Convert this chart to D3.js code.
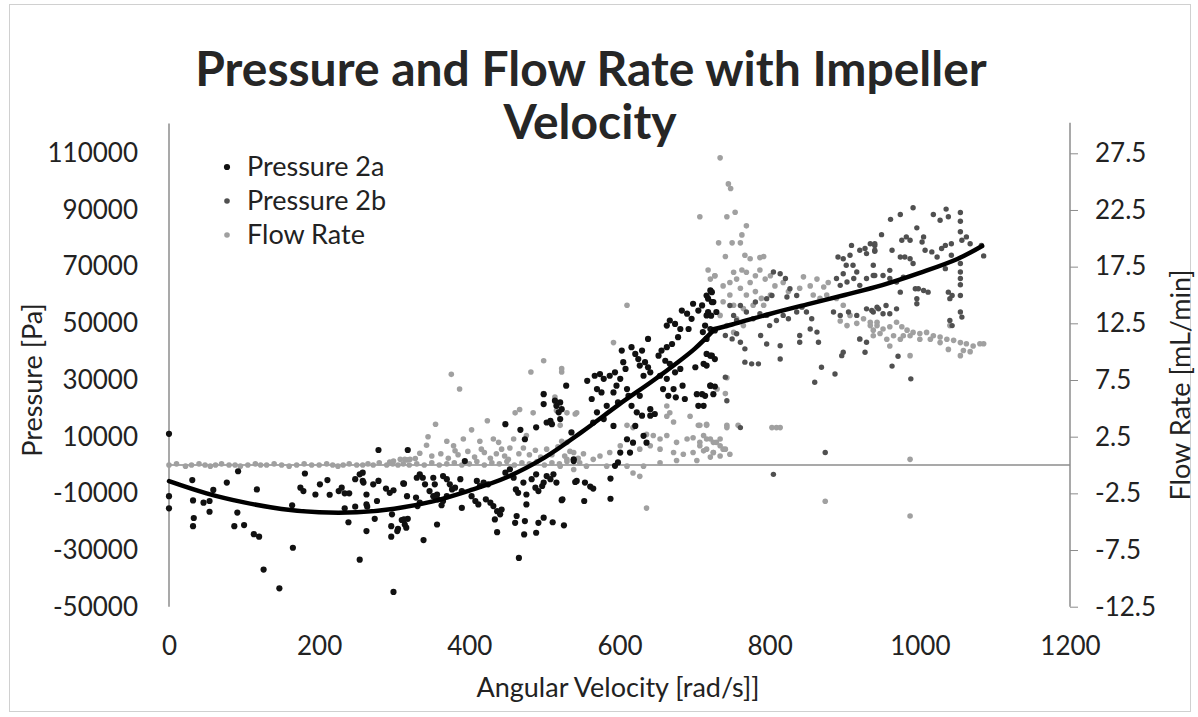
<!DOCTYPE html>
<html lang="en">
<head>
<meta charset="UTF-8">
<title>Pressure and Flow Rate with Impeller Velocity</title>
<style>
  body { margin: 0; background: #fff; }
  svg { display: block; font-family: Lato, "Open Sans", sans-serif; }
</style>
</head>
<body>
<div id="chart"></div>
<script src="https://d3js.org/d3.v7.min.js"></script>
<script>
// angular velocity [rad/s], pressure [Pa]
const pressure2a = [
  [0,11000],[0,-11000],[0,-15300],[31,-5300],[32,-12500],[33,-18700],[32,-21600],[46,-13300],[54,-12700],[54,-16500],
  [59,-8800],[77,-6200],[87,-21600],[91,-16800],[92,-2200],[100,-21200],[117,-8600],[113,-24400],[120,-25300],[126,-36900],
  [147,-43500],[164,-14200],[165,-29200],[175,-8000],[179,-9200],[181,-3000],[195,-10400],[201,-6800],[211,-5300],[214,-10500],
  [226,-9200],[230,-8000],[234,-10000],[240,-10000],[234,-15300],[239,-20200],[248,-5000],[248,-14700],[254,-33400],[254,-3300],
  [258,-2700],[258,-5600],[259,-6200],[263,-10400],[263,-13900],[264,-14700],[263,-23300],[272,-6800],[279,-5600],[277,-12700],
  [274,-19000],[279,5300],[289,-8300],[294,-9800],[299,-8900],[297,-17400],[296,-21600],[296,-25300],[299,-44800],[304,-23300],
  [305,-22500],[310,-19400],[314,-21000],[318,-19000],[312,-6500],[318,5300],[330,-4500],[331,-14500],
  [313,-6600],[317,-11000],[313,-19200],[316,-22100],[334,-3300],[338,-4500],[341,-6800],[329,-11500],[334,-13300],[339,-26500],
  [352,-4500],[354,-6800],[347,-9200],[352,-11000],[357,-10400],[358,-12100],[363,-14200],[365,-3900],[370,-5000],[374,-6800],
  [377,-8600],[381,-8000],[357,-21000],[365,-12700],[370,-11000],[388,-5000],[390,-9200],[390,-15100],[394,1400],[403,-11000],
  [408,-12700],[412,-13900],[410,-5600],[414,-7400],[419,-6200],[425,-6800],[422,-12100],[428,-13300],[432,-14500],[437,-16300],
  [441,-17400],[443,-15700],[434,-19200],[437,-23700],[448,14400],[448,-2700],[454,-1500],[459,-4500],[462,-8600],[465,-9800],
  [463,-18000],[461,-20400],[466,-32800],[468,12400],[474,9100],[472,-6200],[476,-10400],[476,-13900],[473,-24500],[474,-19800],
  [483,-5000],[489,-3300],[488,-8000],[492,-9200],[497,-7400],[499,-6200],[489,-23900],[499,-18600],[492,-20400],[489,13300],
  [499,21500],[499,25000],[503,15000],[508,15600],[510,14400],[514,22700],[516,20900],[519,18600],[521,16200],[503,-3900],
  [508,-5000],[512,-3300],[516,-6200],[523,-12400],[526,-21300],[511,-20200],[529,28000],[536,11500],[539,2000],[543,-5600],
  [521,22100],[523,19700],[539,1400],[541,-6000],[554,-6200],[561,-7600],[565,-8300],[553,-12700],[588,-11900],[588,-4800],
  [524,-12100],[557,29700],[567,31500],[574,32100],[579,30400],[570,26800],[576,25600],[563,23300],[570,18600],[565,15000],
  [579,16200],[583,20900],[587,31500],[594,32700],[596,28000],[592,25600],[603,40400],[605,36300],[608,33900],[601,30400],
  [610,26800],[612,24400],[598,22100],[592,13800],[616,41600],[621,39200],[625,37400],[630,40400],[627,35100],[638,44500],
  [634,36300],[638,34500],[641,32700],[632,31500],[616,20900],[623,18600],[630,17400],[621,13800],[627,24400],[641,19700],
  [647,18000],[641,17400],[652,38600],[656,40400],[663,41600],[670,42700],[661,36800],[667,35700],[654,31500],[658,26800],
  [665,24400],[672,26800],[663,30400],[663,49200],[667,51000],[674,49800],[681,48000],[678,45100],[683,54500],[690,53400],
  [696,51600],[698,56900],[692,48000],[675,23900],[687,23300],[684,28000],[681,33900],[674,32700],[703,25000],[710,25000],
  [705,20900],[721,28000],[725,25000],[701,34500],[712,35700],[716,39200],[723,38600],[727,37400],[705,54500],[710,56300],
  [718,58700],[723,61000],[725,57500],[729,54000],[716,52800],[714,49200],[721,48000],[727,47500],[594,-300],[598,900],
  [632,10300],[636,7900],[610,9100],[614,4400],[601,4400],[618,7900],
  [716,59800],[721,61600],[723,57500],[718,54000],[722,52700],[711,46900],[716,44500],[721,38600],[716,35100],[721,28000],
  [727,27700],[714,24400],[712,20900]
];

const pressure2b = [
  [891,73400],[898,72800],[907,74000],[909,77500],[920,75800],[927,76400],[929,74600],[934,78100],[940,77500],[940,75400],
  [902,70500],[898,67500],[911,70500],[916,68100],[889,65800],[894,63400],[903,64600],[912,65800],[920,63400],[929,65800],
  [938,66900],[885,54000],[894,52800],[905,54000],[916,52800],[929,55100],[938,54000],[945,55100],[920,44500],[929,43300],
  [927,39800],[898,39800],[896,38600],[869,34500],[860,29200],[887,32100],[874,4400],[805,-3300],[767,41000],[776,35700],
  [785,35700],[767,36300],[796,42700],[814,42100],[814,37400],[788,45700],[761,13200],[741,31000],[743,22700],[840,45700],
  [854,48000],[863,46900],[865,43300],[840,43300],[836,54000],[843,55700],[849,54000],[856,51600],[796,52800],[800,49200],
  [809,51000],[818,52800],[825,51600],[769,54000],[778,51600],[787,53400],[781,57500],[796,58700],[803,59800],[747,56300],
  [752,52800],[756,51000],[761,56300],[741,45700],[750,44500],[756,46300],[761,43300],[805,68100],[814,67500],[821,65800],
  [827,62200],[823,59300],[836,59800],
  [991,90800],[974,88400],[961,86700],[1018,88400],[1027,86400],[1035,90300],[1038,87600],[1054,89100],[1054,86000],[996,83700],
  [982,80500],[987,79300],[976,79300],[1005,80500],[949,81300],[940,78100],[940,75800],[963,75800],[974,73400],[980,73400],
  [987,72800],[991,71100],[1003,78700],[1007,75800],[1016,75200],[1023,73400],[1029,76400],[1034,77500],[1042,78100],[1042,74000],
  [1034,69300],[1054,82300],[1056,79300],[1062,80500],[1067,78100],[1054,71100],[1054,68100],[1054,65800],[1054,63600],[1054,59800],
  [1085,73800],[1082,77500],[938,70500],[940,66900],[951,66900],[960,68700],[960,65800],[969,64600],[978,66300],[974,61000],
  [969,55100],[960,53400],[951,53400],[943,55700],[936,54500],[955,56300],[994,62200],[998,62200],[1005,61600],[1011,61000],
  [996,58700],[996,56900],[1038,61000],[1043,59800],[1040,58700],[1054,54000],[1056,52200],[1040,51000],[1043,49200],[971,38400],
  [963,34900],[988,30400]
];

// angular velocity [rad/s], flow rate [mL/min]
const flowRate = [
  [0,0],[10,0.1],[22,-0.1],[30,0],[40,0.1],[48,0],[55,-0.1],[62,0],[70,0.1],[80,0],[88,0],[95,-0.1],[105,0],[115,0.1],
  [122,0],[130,0],[140,0.1],[150,0],[160,-0.1],[170,0],[180,0.1],[190,0],[200,0],[210,0.1],[218,0],[225,-0.1],[232,0],
  [240,0.1],[250,0],[258,0],[265,0.1],[272,0],[280,0.2],[290,0],[298,0.1],[305,0],[312,0.1],[320,0],[330,0.1],[340,0],
  [350,0.2],[360,0],[370,0.1],[380,0.2],[390,0],[400,0.1],[410,0.3],[420,0],[430,0.2],[440,0.1],[450,0.3],[460,0],
  [470,0.2],[480,0.1],[490,0.3],[500,0],[510,0.2],[520,0.1],[530,0.3],
  [279,-1.35],[317,0.45],[299,0.36],[308,0.5],[294,0.27],
  [376,8.0],[387,6.7],[355,3.6],[345,2.5],[343,1.75],[334,1.04],[328,0.57],[321,0.5],[314,0.5],[370,2.1],[379,1.7],
  [381,1.25],[392,2.3],[403,3.1],[414,2.1],[416,1.4],[424,3.9],[432,2.3],[439,2.0],[443,1.4],[454,1.5],[461,4.6],
  [467,4.9],[459,2.3],[476,2.6],[485,4.6],[482,8.2],[499,9.2],[523,8.2],[499,6.3],[514,6.0],[516,4.8],[521,3.5],
  [523,2.1],[530,2.0],[543,4.6],[539,-0.4],
  [350,0.8],[362,1.0],[372,0.6],[385,0.9],[398,1.2],[407,0.7],[420,1.1],[428,0.6],[436,1.0],[447,0.8],[452,0.5],
  [466,1.0],[472,1.5],[480,0.9],[488,1.3],[495,0.7],[503,1.4],[510,0.9],[518,1.6],[527,0.8],[534,1.2],[545,0.6],[552,1.0],
  [610,14.1],[592,10.8],[523,8.5],[743,7.7],[741,6.3],[730,6.7],[743,3.5],[758,3.5],[694,4.3],[663,4.3],[672,3.8],
  [705,3.5],[716,3.5],[610,3.5],[618,3.3],[636,2.7],[645,2.6],[654,2.3],[663,2.6],[676,2.0],[690,2.3],[698,2.4],
  [707,2.0],[716,2.3],[725,2.0],[734,2.3],[738,1.4],[725,1.1],[712,1.25],[698,1.1],[685,0.95],[672,1.1],[654,1.4],
  [641,1.7],[627,1.4],[614,1.1],[601,1.7],[587,1.1],[574,0.8],[565,0.5],[556,-0.1],[547,0.2],[583,-0.1],[610,-0.1],
  [632,-0.1],[654,0.2],[676,0.4],[703,0.4],[721,0.7],[734,0.8],[747,0.95],[618,-0.7],[627,-1.0],[636,-3.8],[667,4.6],
  [663,5.2],[521,-0.1],[530,0.5],[539,1.1],[530,4.6],[541,4.5],
  [734,27.1],[745,24.8],[748,24.4],[743,21.9],[754,22.3],[769,21.1],[763,20.3],[732,19.6],[750,19.6],[761,19.6],
  [741,18.4],[767,18.5],[774,18.2],[787,18.3],[792,18.4],[707,21.9],[718,17.2],[727,16.7],
  [721,16.4],[727,16.7],[738,15.8],[747,16.1],[752,17.0],[756,16.4],[763,17.2],[769,17.0],[774,16.1],[781,16.7],
  [787,17.2],[794,16.4],[801,16.7],[807,15.8],[818,16.1],[825,15.3],[761,15.6],[769,15.0],[781,15.3],[789,14.7],
  [801,15.0],[747,15.0],[738,14.4],[752,14.1],[765,13.8],[778,14.1],[792,14.1],[734,13.2],[756,12.9],[743,12.3],
  [752,11.7],[765,12.3],[845,16.6],[854,15.8],[863,16.4],[872,15.7],[878,16.1],[840,15.6],[858,15.0],[867,14.7],
  [876,15.0],[889,14.7],[898,14.1],[894,12.7],[907,13.2],[916,12.5],[925,12.9],[934,12.3],[943,12.6],[938,11.4],
  [903,12.3],[920,11.1],[707,3.5],[716,3.6],[712,2.6],[721,2.3],[729,2.0],[716,1.4],[725,1.1],[734,1.7],[707,1.7],
  [741,1.4],[809,3.3],[803,3.3],[743,3.3],
  [934,12.6],[943,12.3],[951,12.0],[960,12.2],[969,12.6],[976,12.2],[983,11.9],[991,11.7],[1000,11.6],[1009,11.7],
  [1018,11.4],[1027,11.3],[1036,11.1],[1045,11.0],[1054,10.8],[1062,10.7],[1071,10.5],[1080,10.7],[1085,10.7],[1058,10.1],
  [1067,10.0],[1054,9.65],[1038,10.2],[1027,10.8],[1014,11.1],[1000,11.1],[987,11.4],[978,11.4],[965,11.4],[956,11.1],
  [947,11.6],[938,11.9],[960,10.5],[974,11.1],[1040,12.3],[987,9.65],
  [874,-3.2],[987,-4.5],[987,0.5],[814,3.3]
];

// fitted trend of pressure (two pieces, kink near 725 rad/s)
const trendLow = [
  [0,-5700],[50,-10000],[100,-13200],[150,-15500],[200,-16700],[250,-16700],[300,-15400],[350,-12900],
  [400,-9000],[450,-4300],[500,2600],[550,11700],[600,21500],[650,30800],[700,41000],[725,47500]
];
const trendHigh = [
  [725,47900],[750,49600],[800,53300],[850,56700],[900,60000],[950,63500],[1000,67800],[1050,72700],[1083,77300]
];

const xTicks = [0, 200, 400, 600, 800, 1000, 1200];
const pressureTicks = [-50000, -30000, -10000, 10000, 30000, 50000, 70000, 90000, 110000];
const flowTicks = [-12.5, -7.5, -2.5, 2.5, 7.5, 12.5, 17.5, 22.5, 27.5];
const seriesNames = ['Pressure 2a', 'Pressure 2b', 'Flow Rate'];

const width = 1198, height = 717;
const svg = d3.select('#chart').append('svg').attr('width', width).attr('height', height);

// chart border
svg.append('rect').attr('x', 9.5).attr('y', 4.5).attr('width', 1181).attr('height', 707)
  .attr('fill', '#fff').attr('stroke', '#d0d0d0');

const x = d3.scaleLinear().domain([0, 1200]).range([169, 1070]);
const yP = d3.scaleLinear().domain([-50000, 110000]).range([606.7, 153.3]);
const yF = d3.scaleLinear().domain([-12.5, 27.5]).range([606.7, 153.3]);

const axisColor = '#8c8c8c';
const textColor = '#222';

// left axis (no visible ticks)
const left = svg.append('g').attr('transform', `translate(${x(0)},0)`)
  .call(d3.axisLeft(yP).tickValues(pressureTicks).tickSize(0).tickPadding(31).tickFormat(d => String(d)));
left.select('.domain').remove();
left.append('line').attr('y1', yP(120500)).attr('y2', yP(-50000)).attr('stroke', axisColor).attr('stroke-width', 1.5);

// right axis
const right = svg.append('g').attr('transform', `translate(${x(1200)},0)`)
  .call(d3.axisRight(yF).tickValues(flowTicks).tickSize(8).tickPadding(17).tickFormat(d => d.toFixed(1)));
right.select('.domain').remove();
right.append('line').attr('y1', yF(30.2)).attr('y2', yF(-12.5)).attr('stroke', axisColor).attr('stroke-width', 1.5);
right.selectAll('.tick line').attr('stroke', axisColor);

// bottom labels
const bottom = svg.append('g').attr('transform', `translate(0,${yP(-50000)})`)
  .call(d3.axisBottom(x).tickValues(xTicks).tickSize(0).tickPadding(30).tickFormat(d => String(d)));
bottom.select('.domain').remove();

svg.selectAll('.tick text').attr('font-size', 26).attr('fill', textColor).attr('font-family', 'Lato, sans-serif');

// horizontal axis line at zero
svg.append('line').attr('x1', x(0)).attr('x2', x(1200)).attr('y1', yP(0)).attr('y2', yP(0))
  .attr('stroke', axisColor).attr('stroke-width', 1.5);

// points
svg.append('g').selectAll('circle').data(flowRate).join('circle')
  .attr('cx', d => x(d[0])).attr('cy', d => yF(d[1])).attr('r', 2.8).attr('fill', '#a0a0a0');
svg.append('g').selectAll('circle').data(pressure2b).join('circle')
  .attr('cx', d => x(d[0])).attr('cy', d => yP(d[1])).attr('r', 2.7).attr('fill', '#505050');
svg.append('g').selectAll('circle').data(pressure2a).join('circle')
  .attr('cx', d => x(d[0])).attr('cy', d => yP(d[1])).attr('r', 3.1).attr('fill', '#111');

// trend line
const line = d3.line().x(d => x(d[0])).y(d => yP(d[1])).curve(d3.curveCatmullRom);
[trendLow, trendHigh].forEach(t => {
  svg.append('path').datum(t).attr('d', line).attr('fill', 'none')
    .attr('stroke', '#000').attr('stroke-width', 4.5).attr('stroke-linecap', 'round');
});

// titles
const title = svg.append('text').attr('text-anchor', 'middle').attr('font-size', 48).attr('font-weight', 'bold').attr('fill', '#262626');
title.append('tspan').attr('x', 591).attr('y', 86).text('Pressure and Flow Rate with Impeller');
title.append('tspan').attr('x', 590).attr('y', 139).text('Velocity');

svg.append('text').attr('x', 618).attr('y', 697).attr('text-anchor', 'middle')
  .attr('font-size', 27).attr('fill', textColor).text('Angular Velocity [rad/s]]');
svg.append('text').attr('transform', 'translate(42,380) rotate(-90)').attr('text-anchor', 'middle')
  .attr('font-size', 27).attr('fill', textColor).text('Pressure [Pa]');
svg.append('text').attr('transform', 'translate(1190,385) rotate(-90)').attr('text-anchor', 'middle')
  .attr('font-size', 27).attr('fill', textColor).text('Flow Rate [mL/min]');

// legend
const legendColors = ['#111', '#505050', '#a0a0a0'];
const legend = svg.append('g').selectAll('g').data(seriesNames).join('g')
  .attr('transform', (d, i) => `translate(227,${167 + i * 34})`);
legend.append('circle').attr('r', (d, i) => i === 0 ? 3.1 : 2.8).attr('fill', (d, i) => legendColors[i]);
legend.append('text').attr('x', 20).attr('dy', '0.35em').attr('font-size', 27).attr('fill', textColor).text(d => d);
</script>
</body>
</html>
